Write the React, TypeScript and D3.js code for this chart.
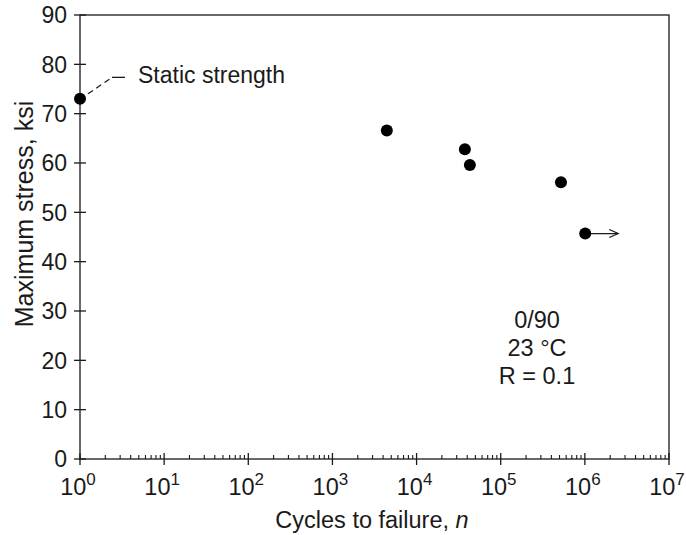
import React from "react";
import * as d3 from "d3";

// Fatigue data (0/90 laminate, 23 °C, R = 0.1)
const cycles = [1, 4430, 37500, 43000, 520000, 1010000];
const maxStress = [73, 66.6, 62.8, 59.6, 56.1, 45.7];
const runout = [false, false, false, false, false, true];

const yTicks = [0, 10, 20, 30, 40, 50, 60, 70, 80, 90];
const xExponents = [0, 1, 2, 3, 4, 5, 6, 7];
const noteLines = ["0/90", "23 °C", "R = 0.1"];

const W = 686;
const H = 535;
const margin = { top: 15, right: 17, bottom: 76, left: 80 };
const FONT = "'Liberation Sans', Arial, Helvetica, sans-serif";
const INK = "#1a1a1a";

const App = () => {
  const x = d3
    .scaleLog()
    .domain([1, 1e7])
    .range([margin.left, W - margin.right]);
  const y = d3
    .scaleLinear()
    .domain([0, 90])
    .range([H - margin.bottom, margin.top]);

  const x0 = x.range()[0];
  const x1 = x.range()[1];
  const y0 = y.range()[0];
  const y1 = y.range()[1];

  // minor ticks 2..9 in every decade
  const minor: number[] = [];
  xExponents.slice(0, -1).forEach(e => {
    for (let k = 2; k <= 9; k++) minor.push(k * Math.pow(10, e));
  });

  const pts = cycles.map((c, i) => ({ c, s: maxStress[i], run: runout[i] }));
  const stat = pts[0];
  const sx = x(stat.c);
  const sy = y(stat.s);

  return (
    <svg
      width={W}
      height={H}
      style={{ position: "absolute", left: 0, top: 0, background: "#fff" }}
      fontFamily={FONT}
    >
      {/* frame */}
      <rect x={x0} y={y1} width={x1 - x0} height={y0 - y1} fill="none" stroke={INK} strokeWidth={1.3} />

      {/* y axis ticks */}
      {yTicks.map(t => (
        <g key={"y" + t}>
          <line x1={x0 - 6} x2={x0 + 6} y1={y(t)} y2={y(t)} stroke={INK} strokeWidth={1.3} />
          <text x={x0 - 13} y={y(t)} dy="0.36em" textAnchor="end" fontSize={23} fill={INK}>
            {t}
          </text>
        </g>
      ))}

      {/* x axis major ticks + labels */}
      {xExponents.map(e => (
        <g key={"x" + e}>
          <line x1={x(Math.pow(10, e))} x2={x(Math.pow(10, e))} y1={y0 - 6} y2={y0 + 6} stroke={INK} strokeWidth={1.3} />
          <text x={x(Math.pow(10, e)) - 2} y={y0 + 35.5} textAnchor="middle" fontSize={23.5} fill={INK}>
            10
            <tspan dy={-10} fontSize={17}>
              {e}
            </tspan>
          </text>
        </g>
      ))}
      {minor.map(m => (
        <line key={"m" + m} x1={x(m)} x2={x(m)} y1={y0 - 4} y2={y0} stroke={INK} strokeWidth={1.1} />
      ))}

      {/* axis titles */}
      <text x={372} y={528} textAnchor="middle" fontSize={23.5} fill={INK}>
        Cycles to failure, <tspan fontStyle="italic">n</tspan>
      </text>
      <text
        transform={`translate(33, 214) rotate(-90)`}
        textAnchor="middle"
        fontSize={25}
        fill={INK}
      >
        Maximum stress, ksi
      </text>

      {/* static strength leader */}
      <line x1={sx + 8} y1={sy - 5} x2={sx + 32} y2={sy - 21.5} stroke={INK} strokeWidth={1.2} strokeDasharray="6,4" />
      <line x1={sx + 32} y1={sy - 21.5} x2={sx + 45} y2={sy - 21.5} stroke={INK} strokeWidth={1.3} />
      <text x={sx + 58} y={sy - 15.5} fontSize={23} fill={INK}>
        Static strength
      </text>

      {/* run-out arrow */}
      {pts.filter(p => p.run).map((p, i) => {
        const px = x(p.c);
        const py = y(p.s);
        const tip = px + 33;
        return (
          <g key={"r" + i} stroke={INK} strokeWidth={1.2} fill="none">
            <line x1={px} x2={tip} y1={py} y2={py} />
            <polyline points={`${tip - 9},${py - 4} ${tip},${py} ${tip - 9},${py + 4}`} />
          </g>
        );
      })}

      {/* data points */}
      {pts.map((p, i) => (
        <circle key={"p" + i} cx={x(p.c)} cy={y(p.s)} r={6} fill="#000" />
      ))}

      {/* test conditions */}
      <text x={537} y={328} textAnchor="middle" fontSize={23.5} fill={INK}>
        {noteLines.map((l, i) => (
          <tspan key={l} x={537} dy={i === 0 ? 0 : 28}>
            {l}
          </tspan>
        ))}
      </text>
    </svg>
  );
};

export default App;
